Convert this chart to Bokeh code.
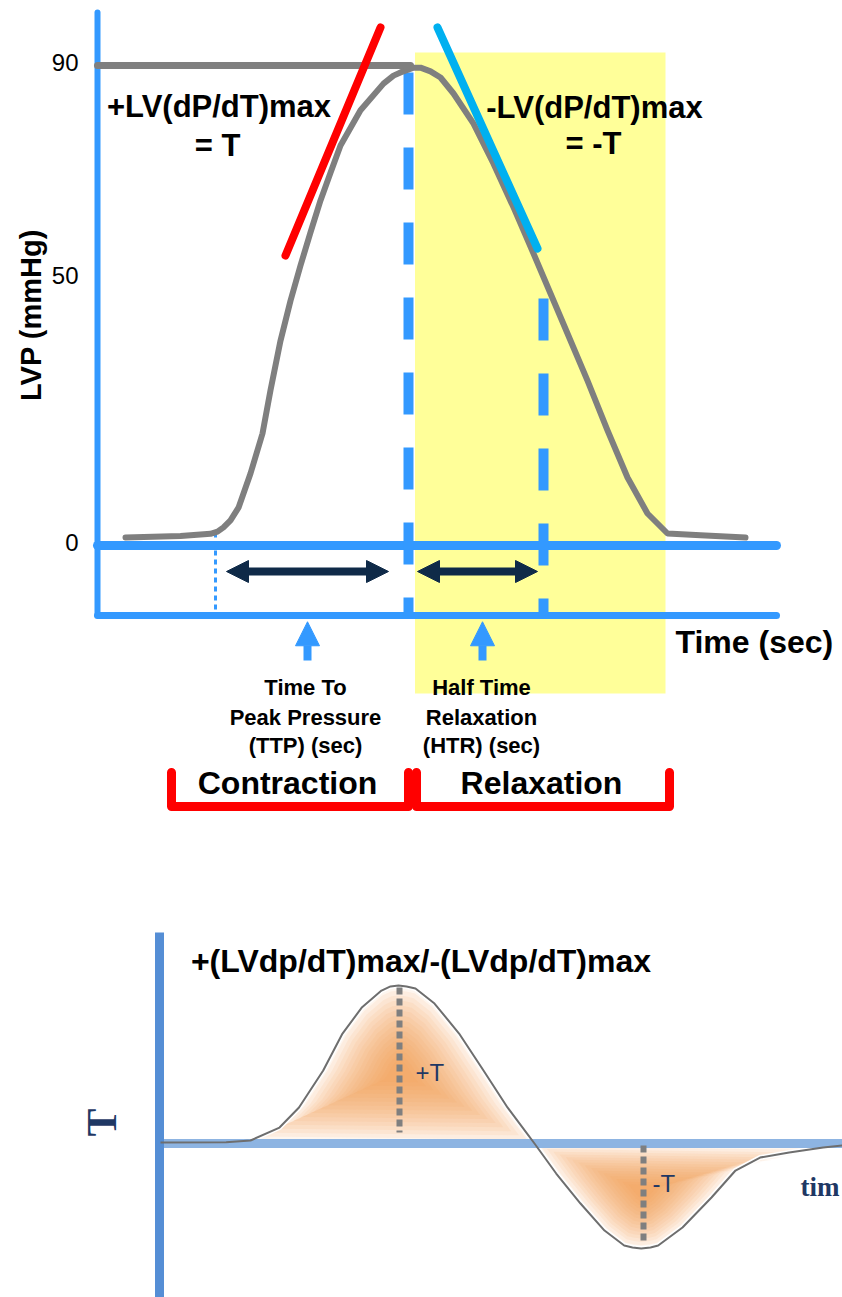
import numpy as np
from bokeh.plotting import figure
from bokeh.layouts import column
from bokeh.models import Range1d, Arrow, NormalHead
from bokeh.core.properties import value
from bokeh.embed import file_html
from bokeh.resources import INLINE

# ---------------- data ----------------
# LV pressure trace: time (ms) vs pressure (mmHg)
time_ms = [14, 41.5, 56.5, 60, 63, 66.5, 70.5, 76.5, 82.5, 86.5, 91.5, 96.5, 101.5,
           106.5, 111.5, 116.5, 121.5, 131.5, 143, 148, 151.5, 158, 161.5, 166.5,
           171.5, 178, 188, 198, 208, 218, 226.5, 235, 245, 255, 265, 275, 285,
           301.5, 324]
lvp_mmHg = [1.5, 1.8, 2.2, 2.6, 3.4, 4.7, 7.1, 13.5, 21.0, 29.1, 38.4, 45.9, 52.5,
            58.7, 64.7, 69.9, 75.0, 81.6, 86.6, 88.1, 88.7, 89.6, 89.6, 88.9,
            87.75, 84.75, 79.1, 71.6, 63.4, 54.75, 47.25, 39.75, 30.9, 21.6, 12.75,
            6.0, 2.25, 1.9, 1.5]

y_ticks = [0, 50, 90]
y_tick_labels = ["0", "50", "90"]

p_max = 90
t_onset = 59        # start of contraction
t_peak = 155.5      # time to peak pressure
t_relax = 158.75    # start of relaxation
t_half = 223        # half relaxation
t_relax_end = 284   # end of relaxation

# tangents: +dP/dt max and -dP/dt max
tan_pos_t = [94, 141.5]
tan_pos_p = [54.375, 97.125]
tan_neg_t = [170, 220]
tan_neg_p = [97.125, 55.69]

# dP/dt trace (% of +T) vs time
dpdt_t = [1, 33.8, 46, 60.5, 70.25, 82.35, 92, 101.8, 111.5, 116, 120, 124, 128.5,
          138, 150.3, 162.5, 174.5, 184.3, 188, 198.85, 211, 223, 232.85, 237,
          241.35, 246, 249.85, 262, 276.5, 288.5, 300.8, 315.35, 332.35, 342]
dpdt_v = [0.63, 0.82, 1.9, 10.1, 22.8, 46.2, 69.6, 86.3, 96.8, 99.4, 100, 99.4,
          98.1, 88.6, 69.6, 46.2, 22.8, 6.3, 0, -19.0, -38.0, -55.1, -64.6, -65.8,
          -66.5, -65.8, -64.6, -53.2, -34.2, -17.1, -8.9, -5.7, -2.5, -1.3]
t_max_pos = 120.5
t_max_neg = 242.5

# ---------------- styles ----------------
BLUE = "#3399FF"
GRAY = "#7F7F7F"
NAVY = "#0F2A48"
FONT = value("Liberation Sans")
W = 842

# ---------------- top figure: LV pressure ----------------
rail = -13.125      # lower rail of the TTP/HTR strip
p = figure(width=W, height=868, x_range=Range1d(-48.5, 372.5),
           y_range=Range1d(-60.5625, 102.1875), output_backend="svg",
           toolbar_location=None, min_border=0,
           x_axis_location=None, y_axis_location=None)
p.grid.visible = False
p.outline_line_color = None
p.background_fill_color = "white"

# relaxation region
p.quad(left=[t_relax], right=[t_relax_end], bottom=[-27.75], top=[92.44],
       fill_color="#FFFF99", line_color=None)

# frame lines
p.line([0, 0], [99.94, rail], line_color=BLUE, line_width=6, line_cap="round")
p.line([0, 339.5], [0, 0], line_color=BLUE, line_width=9, line_cap="round")
p.line([0, 339.5], [rail, rail], line_color=BLUE, line_width=7, line_cap="round")
p.line([0, t_peak + 1], [p_max, p_max], line_color=GRAY, line_width=7, line_cap="round")

# dashed markers
p.line([t_peak, t_peak], [88.69, rail], line_color=BLUE, line_width=10, line_dash="42 33")
p.line([t_half, t_half], [46.31, rail], line_color=BLUE, line_width=10, line_dash="42 33")
p.line([t_onset, t_onset], [2.44, -12.56], line_color=BLUE, line_width=3, line_dash="5 4")

# pressure trace
p.line(time_ms, lvp_mmHg, line_color=GRAY, line_width=6, line_join="round", line_cap="round")

# tangents
p.line(tan_pos_t, tan_pos_p, line_color="#FF0000", line_width=8, line_cap="round")
p.line(tan_neg_t, tan_neg_p, line_color="#00B0F0", line_width=8, line_cap="round")

# double arrows (TTP, HTR)
for xs, xe in [(t_onset + 5.5, t_peak - 10), (t_relax + 1.25, t_half - 3)]:
    p.add_layout(Arrow(start=NormalHead(size=22, fill_color=NAVY, line_color=NAVY),
                       end=NormalHead(size=22, fill_color=NAVY, line_color=NAVY),
                       x_start=xs, y_start=-4.875, x_end=xe, y_end=-4.875,
                       line_color=NAVY, line_width=8))

# pointer arrows
for xa in [105, 192.5]:
    p.add_layout(Arrow(end=NormalHead(size=24, fill_color=BLUE, line_color=BLUE),
                       x_start=xa, y_start=-21.56, x_end=xa, y_end=-14.3,
                       line_color=BLUE, line_width=8))

# red brackets
for x0, x1 in [(37, t_peak), (159.5, 286)]:
    p.line([x0, x0, x1, x1], [-42.56, -48.94, -48.94, -42.56], line_color="#FF0000",
           line_width=9, line_join="round", line_cap="round")

# tick labels
p.text(x=[-9.5] * 3, y=y_ticks, text=y_tick_labels, text_font=FONT,
       text_font_size="24px", text_align="right", text_baseline="middle",
       y_offset=-3, text_color="black")
p.text(x=[-33.5], y=[43.2], text=["LVP (mmHg)"], angle=np.pi / 2, text_font=FONT,
       text_font_size="29px", text_font_style="bold", text_align="center",
       text_baseline="middle", text_color="black")

big = dict(text_font=FONT, text_font_size="31px", text_font_style="bold",
           text_align="center", text_baseline="middle", text_color="black")
p.text(x=[60.75, 60, 248.5, 248], y=[82.3, 75, 82.1, 75.4],
       text=["+LV(dP/dT)max", "= T", "-LV(dP/dT)max", "= -T"], **big)
p.text(x=[289], y=[-18], text=["Time (sec)"], text_font=FONT, text_font_size="32px",
       text_font_style="bold", text_align="left", text_baseline="middle",
       text_color="black")

small = dict(text_font=FONT, text_font_size="22px", text_font_style="bold",
             text_align="center", text_baseline="middle", text_color="black")
p.text(x=[104, 104, 104, 192, 192, 192],
       y=[-26.6, -32.25, -37.5, -26.6, -32.25, -37.5],
       text=["Time To", "Peak Pressure", "(TTP) (sec)",
             "Half Time", "Relaxation", "(HTR) (sec)"], **small)

p.text(x=[95, 222], y=[-44.6, -44.6], text=["Contraction", "Relaxation"],
       text_font=FONT, text_font_size="32px", text_font_style="bold",
       text_align="center", text_baseline="middle", text_color="black")

# ---------------- bottom figure: dP/dt ----------------
q = figure(width=W, height=429, x_range=Range1d(-79, 342),
           y_range=Range1d(-97.47, 174.05), output_backend="svg",
           toolbar_location=None, min_border=0,
           x_axis_location=None, y_axis_location=None)
q.grid.visible = False
q.outline_line_color = None

t_arr = np.array(dpdt_t, dtype=float)
v_arr = np.array(dpdt_v, dtype=float)
pos = (t_arr >= 46) & (t_arr <= 188)
neg = (t_arr >= 188) & (t_arr <= 332.35)


def shaded(ts, vs, cx, cy, n=16):
    for k in range(n):
        s = 1.0 - 0.92 * k / n
        q.patch(cx + s * (ts - cx), cy + s * (vs - cy), fill_color="#F79646",
                fill_alpha=0.085, line_color=None)


shaded(t_arr[pos], v_arr[pos], t_max_pos, 45)
shaded(t_arr[neg], v_arr[neg], t_max_neg, -30)

q.line(dpdt_t, dpdt_v, line_color="white", line_width=5, line_join="round")
q.line([0.5, 342], [0, 0], line_color="#8DB4E2", line_width=9)
q.line([0.5, 0.5], [133.5, -97.47], line_color="#558ED5", line_width=9)
q.line(dpdt_t, dpdt_v, line_color="#6E6E6E", line_width=2, line_join="round")

q.line([t_max_pos, t_max_pos], [98.7, 7.0], line_color=GRAY, line_width=6, line_dash="7 4")
q.line([t_max_neg, t_max_neg], [-1.3, -61.4], line_color=GRAY, line_width=6, line_dash="7 4")

q.text(x=[131.25], y=[115.8], text=["+(LVdp/dT)max/-(LVdp/dT)max"], text_font=FONT,
       text_font_size="32px", text_font_style="bold", text_align="center",
       text_baseline="middle", text_color="black")
q.text(x=[128.5, 247], y=[44.9, -25.3], text=["+T", "-T"], text_font=FONT,
       text_font_size="24px", text_align="left", text_baseline="middle",
       text_color="#1F3864")
q.text(x=[-28.5], y=[13.3], text=["T"], angle=np.pi / 2,
       text_font=value("Liberation Serif"), text_font_size="42px",
       text_font_style="bold", text_align="center", text_baseline="middle",
       text_color="#1F3864")
q.text(x=[321], y=[-27.8], text=["tim"], text_font=value("Liberation Serif"),
       text_font_size="27px", text_font_style="bold", text_align="left",
       text_baseline="middle", text_color="#1F3864")

layout = column(p, q, spacing=0)
open("out.html", "w").write(file_html(layout, INLINE))
